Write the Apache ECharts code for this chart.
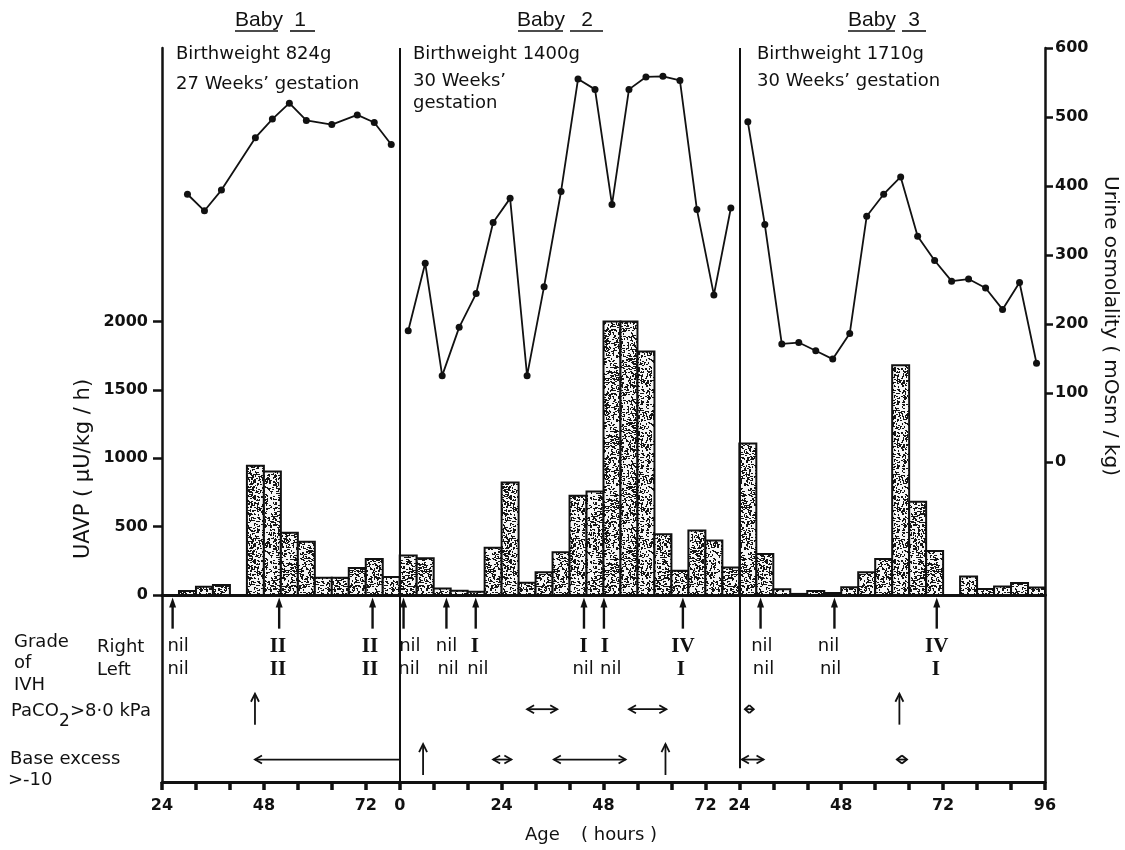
<!DOCTYPE html>
<html>
<head>
<meta charset="utf-8">
<title>UAVP and urine osmolality, three babies</title>
<script src="https://cdn.jsdelivr.net/npm/echarts@6/dist/echarts.min.js"></script>
<style>
  html, body { margin: 0; padding: 0; background: #fff; }
  #chart { width: 1125px; height: 850px; }
</style>
</head>
<body>
<div id="chart"></div>
<script>
const INK = "#111111";
const FONT = '"DejaVu Sans", sans-serif';
const TITLE_FONT = '"Liberation Sans", sans-serif';
const NUMERAL_FONT = '"Liberation Serif", serif';

// each panel runs on its own baby's clock (hours of age)
const panelFirstHour = [24, 0, 24];
const panelLastHour = [80, 80, 96];
const BIN_HOURS = 4;

// UAVP (uU/kg/h), one bar per 4-hour collection, keyed by its start hour
const baby1BinStart = [28, 32, 36, 44, 48, 52, 56, 60, 64, 68, 72, 76];
const baby1Uavp = [29, 61, 73, 945, 903, 456, 390, 127, 127, 198, 264, 132];
const baby2BinStart = [0, 4, 8, 12, 16, 20, 24, 28, 32, 36, 40, 44, 48, 52, 56, 60, 64, 68, 72, 76];
const baby2Uavp = [288, 268, 48, 31, 24, 346, 823, 90, 166, 312, 725, 757, 2000, 2000, 1780, 444, 178, 471, 398, 202];
const baby3BinStart = [24, 28, 32, 36, 40, 44, 48, 52, 56, 60, 64, 68, 76, 80, 84, 88, 92];
const baby3Uavp = [1108, 300, 42, 8, 29, 15, 56, 166, 264, 1680, 681, 321, 135, 44, 62, 88, 54];

// urine osmolality (mOsm/kg)
const baby1OsmHour = [30, 34, 38, 46, 50, 54, 58, 64, 70, 74, 78];
const baby1Osm = [388, 364, 394, 470, 497, 520, 495, 489, 503, 492, 460];
const baby2OsmHour = [2, 6, 10, 14, 18, 22, 26, 30, 34, 38, 42, 46, 50, 54, 58, 62, 66, 70, 74, 78];
const baby2Osm = [190, 288, 125, 195, 244, 347, 382, 125, 254, 392, 555, 540, 373, 540, 558, 559, 553, 366, 242, 368];
const baby3OsmHour = [26, 30, 34, 38, 42, 46, 50, 54, 58, 62, 66, 70, 74, 78, 82, 86, 90, 94];
const baby3Osm = [493, 344, 171, 173, 161, 149, 186, 356, 388, 413, 327, 292, 262, 265, 252, 221, 260, 143];

// ultrasound scans and the IVH grade found on each side
const baby1ScanHour = [26.5, 51.6, 73.6];
const baby2ScanHour = [0.9, 11, 17.9, 43.4, 48.1, 66.7];
const baby3ScanHour = [29, 46.4, 70.5];
const baby1GradeRight = [[27.8, "nil"], [51.3, "II"], [73, "II"]];
const baby1GradeLeft = [[27.8, "nil"], [51.3, "II"], [73, "II"]];
const baby2GradeRight = [[2.4, "nil"], [11, "nil"], [17.7, "I"], [43.3, "I"], [48.3, "I"], [66.7, "IV"]];
const baby2GradeLeft = [[2.2, "nil"], [11.4, "nil"], [18.4, "nil"], [43.2, "nil"], [49.7, "nil"], [66.2, "I"]];
const baby3GradeRight = [[29.3, "nil"], [45, "nil"], [70.5, "IV"]];
const baby3GradeLeft = [[29.7, "nil"], [45.5, "nil"], [70.3, "I"]];

// blood gas periods: [kind, from hour, to hour]
const baby1Paco2 = [["up", 45.9]];
const baby2Paco2 = [["both", 30, 37.1], ["both", 54, 62.8]];
const baby3Paco2 = [["both", 25.3, 27.4], ["up", 61.7]];
const baby1BaseExcess = [["left", 45.9, 80]];
const baby2BaseExcess = [["up", 5.5], ["both", 22, 26.3], ["both", 36.3, 53.2], ["up", 62.6]];
const baby3BaseExcess = [["both", 24.6, 29.7], ["both", 61.1, 63.5]];

const uavpTicks = [0, 500, 1000, 1500, 2000];
const osmTicks = [0, 100, 200, 300, 400, 500, 600];

// rows of the annotation strip (strip axis runs 0..7.5 downwards)
const ROW = { scanTip: 0.1, scanBase: 1.35, right: 2.05, left: 3.0, paco2: 4.58, base: 6.6 };
const ARROW_HALF = 0.62;

// lay the three clocks end to end on one axis
const panelOffset = [];
let cursor = 0;
panelFirstHour.forEach((first, i) => {
  panelOffset.push(cursor - first);
  cursor += panelLastHour[i] - first;
});
const AXIS_MAX = cursor;
const panelEdge = panelFirstHour.map((first, i) => first + panelOffset[i]);

function localHour(g) {
  let i = 0;
  while (i + 1 < panelEdge.length && g >= panelEdge[i + 1]) i++;
  return g - panelOffset[i];
}

const binStarts = [baby1BinStart, baby2BinStart, baby3BinStart];
const uavp = [baby1Uavp, baby2Uavp, baby3Uavp];
const osmHours = [baby1OsmHour, baby2OsmHour, baby3OsmHour];
const osm = [baby1Osm, baby2Osm, baby3Osm];
const scans = [baby1ScanHour, baby2ScanHour, baby3ScanHour];
const gradesRight = [baby1GradeRight, baby2GradeRight, baby3GradeRight];
const gradesLeft = [baby1GradeLeft, baby2GradeLeft, baby3GradeLeft];
const paco2 = [baby1Paco2, baby2Paco2, baby3Paco2];
const baseExcess = [baby1BaseExcess, baby2BaseExcess, baby3BaseExcess];

const barData = [];
binStarts.forEach((starts, b) => {
  starts.forEach((h, k) => {
    barData.push([h + panelOffset[b], h + BIN_HOURS + panelOffset[b], uavp[b][k]]);
  });
});

const scanData = [];
scans.forEach((hours, b) => hours.forEach((h) => scanData.push([h + panelOffset[b], ROW.scanBase])));

const gradeItems = [];
gradesRight.forEach((list, b) => list.forEach(([h, text]) => gradeItems.push({ x: h + panelOffset[b], row: ROW.right, text })));
gradesLeft.forEach((list, b) => list.forEach(([h, text]) => gradeItems.push({ x: h + panelOffset[b], row: ROW.left, text })));

const eventItems = [];
function addEvents(lists, row) {
  lists.forEach((list, b) => {
    list.forEach(([kind, from, to]) => {
      eventItems.push({
        kind,
        from: from + panelOffset[b],
        to: (to === undefined ? from : to) + panelOffset[b],
        row
      });
    });
  });
}
addEvents(paco2, ROW.paco2);
addEvents(baseExcess, ROW.base);

// speckled fill like the printed stipple
function stippleTexture() {
  const size = 64;
  const canvas = document.createElement("canvas");
  canvas.width = size;
  canvas.height = size;
  const ctx = canvas.getContext("2d");
  ctx.fillStyle = "#f6f6f6";
  ctx.fillRect(0, 0, size, size);
  ctx.fillStyle = "#161616";
  for (let y = 0; y < size; y++) {
    for (let x = 0; x < size; x++) {
      const h = Math.imul(x * 73 + 11, 374761393) ^ Math.imul(y * 37 + 5, 668265263);
      const m = Math.imul(h ^ (h >>> 13), 1274126177) >>> 0;
      const r = (m >>> 8) % 1000;
      if (r < 150) ctx.fillRect(x, y, 2, 1);
      else if (r < 230) ctx.fillRect(x, y, 1, 2);
    }
  }
  return canvas;
}
const stipple = { image: stippleTexture(), repeat: "repeat" };

function renderBar(params, api) {
  const top = api.coord([api.value(0), api.value(2)]);
  const bottom = api.coord([api.value(1), 0]);
  return {
    type: "rect",
    shape: { x: top[0], y: top[1], width: bottom[0] - top[0], height: bottom[1] - top[1] },
    style: { fill: stipple, stroke: INK, lineWidth: 2 }
  };
}

function renderScan(params, api) {
  const tip = api.coord([api.value(0), ROW.scanTip]);
  const base = api.coord([api.value(0), ROW.scanBase]);
  const x = tip[0];
  return {
    type: "group",
    children: [
      { type: "line", shape: { x1: x, y1: base[1], x2: x, y2: tip[1] + 8 }, style: { stroke: INK, lineWidth: 2.4 } },
      { type: "polygon", shape: { points: [[x, tip[1]], [x - 3.5, tip[1] + 10], [x + 3.5, tip[1] + 10]] }, style: { fill: INK } }
    ]
  };
}

function renderGrade(params, api) {
  const item = gradeItems[params.dataIndex];
  const p = api.coord([item.x, item.row]);
  const roman = item.text !== "nil";
  return {
    type: "text",
    x: p[0],
    y: p[1],
    style: {
      text: item.text,
      fill: INK,
      font: roman ? `bold 21px ${NUMERAL_FONT}` : `18px ${FONT}`,
      align: "center",
      verticalAlign: "middle"
    }
  };
}

function renderEvent(params, api) {
  const ev = eventItems[params.dataIndex];
  const style = { stroke: INK, lineWidth: 1.8, fill: null };
  if (ev.kind === "up") {
    const top = api.coord([ev.from, ev.row - ARROW_HALF]);
    const bottom = api.coord([ev.from, ev.row + ARROW_HALF]);
    const x = top[0];
    return {
      type: "group",
      children: [
        { type: "line", shape: { x1: x, y1: bottom[1], x2: x, y2: top[1] }, style },
        { type: "polyline", shape: { points: [[x - 4, top[1] + 8], [x, top[1]], [x + 4, top[1] + 8]] }, style }
      ]
    };
  }
  const a = api.coord([ev.from, ev.row]);
  const b = api.coord([ev.to, ev.row]);
  const head = Math.min(7, (b[0] - a[0]) / 2);
  const children = [
    { type: "line", shape: { x1: a[0], y1: a[1], x2: b[0], y2: b[1] }, style },
    { type: "polyline", shape: { points: [[a[0] + head, a[1] - 4], [a[0], a[1]], [a[0] + head, a[1] + 4]] }, style }
  ];
  if (ev.kind === "both") {
    children.push({ type: "polyline", shape: { points: [[b[0] - head, b[1] - 4], [b[0], b[1]], [b[0] - head, b[1] + 4]] }, style });
  }
  return { type: "group", children };
}

function text(x, y, content, font, extra) {
  return Object.assign({
    type: "text",
    x,
    y,
    silent: true,
    style: { text: content, font, fill: INK, align: "left", verticalAlign: "middle" }
  }, extra || {});
}

function rule(x1, x2, y) {
  return { type: "line", silent: true, shape: { x1, y1: y, x2, y2: y }, style: { stroke: INK, lineWidth: 1.6 } };
}

const labelFont = `18px ${FONT}`;
const titleFont = `21px ${TITLE_FONT}`;
const centred = (el) => { el.style.align = "center"; return el; };

const graphics = [
  centred(text(259, 20, "Baby", titleFont)), centred(text(300, 20, "1", titleFont)),
  rule(235, 278, 31), rule(290, 315, 31),
  centred(text(541, 20, "Baby", titleFont)), centred(text(587, 20, "2", titleFont)),
  rule(518, 563, 31), rule(570, 603, 31),
  centred(text(872, 20, "Baby", titleFont)), centred(text(914, 20, "3", titleFont)),
  rule(848, 895, 31), rule(902, 926, 31),

  text(176, 54, "Birthweight 824g", labelFont),
  text(176, 84, "27 Weeks\u2019 gestation", labelFont),
  text(413, 54, "Birthweight 1400g", labelFont),
  text(413, 81, "30 Weeks\u2019", labelFont),
  text(413, 103, "gestation", labelFont),
  text(757, 54, "Birthweight 1710g", labelFont),
  text(757, 81, "30 Weeks\u2019 gestation", labelFont),

  text(14, 642, "Grade", labelFont),
  text(14, 663, "of", labelFont),
  text(14, 685, "IVH", labelFont),
  text(97, 647, "Right", labelFont),
  text(97, 670, "Left", labelFont),
  text(11, 711, "PaCO", labelFont),
  text(59, 722, "2", `17px ${FONT}`),
  text(70, 711, ">8\u00b70 kPa", labelFont),
  text(10, 759, "Base excess", labelFont),
  text(8, 780, ">-10", labelFont),

  centred(text(84, 469, "UAVP ( \u03bcU/kg / h)", `21px ${FONT}`, { rotation: Math.PI / 2 })),
  centred(text(1110, 326, "Urine osmolality ( mOsm / kg)", `20px ${FONT}`, { rotation: -Math.PI / 2 })),
  text(525, 835, "Age", labelFont),
  text(581, 835, "( hours )", labelFont)
];

const tickLabel = { color: INK, fontFamily: FONT, fontSize: 16, fontWeight: "bold" };
const blackLine = (width) => ({ color: INK, width });
const plain = (v) => String(v);

const chart = echarts.init(document.getElementById("chart"), null, { renderer: "canvas" });
chart.setOption({
  animation: false,
  backgroundColor: "#ffffff",
  grid: [
    { left: 162, right: 80, top: 48, height: 547 },
    { left: 162, right: 80, top: 595, height: 187 }
  ],
  xAxis: [
    {
      gridIndex: 0, type: "value", min: 0, max: AXIS_MAX,
      axisLine: { onZero: false, lineStyle: blackLine(3) },
      axisTick: { show: false }, axisLabel: { show: false }, splitLine: { show: false }
    },
    {
      gridIndex: 1, type: "value", min: 0, max: AXIS_MAX, interval: 8,
      axisLine: { onZero: false, lineStyle: blackLine(3) },
      axisTick: { length: 8, lineStyle: blackLine(3.5) },
      axisLabel: Object.assign({
        margin: 16,
        formatter: (v) => {
          const h = localHour(v);
          return h % 24 === 0 ? String(h) : "";
        }
      }, tickLabel),
      splitLine: { show: false }
    }
  ],
  yAxis: [
    {
      gridIndex: 0, type: "value", position: "left", min: 0, max: 4000,
      axisLine: { show: true, onZero: false, lineStyle: blackLine(2.5) },
      axisTick: { show: true, customValues: uavpTicks, length: 9, lineStyle: blackLine(2.5) },
      axisLabel: Object.assign({ customValues: uavpTicks, margin: 14, formatter: plain }, tickLabel),
      splitLine: { show: false }
    },
    {
      gridIndex: 0, type: "value", position: "right", min: -193, max: 600,
      axisLine: { show: true, onZero: false, lineStyle: blackLine(2.5) },
      axisTick: { show: true, customValues: osmTicks, length: 8, lineStyle: blackLine(2.5) },
      axisLabel: Object.assign({ customValues: osmTicks, margin: 10, formatter: plain }, tickLabel),
      splitLine: { show: false }
    },
    {
      gridIndex: 1, type: "value", position: "left", inverse: true, min: 0, max: 7.5,
      axisLine: { show: true, onZero: false, lineStyle: blackLine(2.5) },
      axisTick: { show: false }, axisLabel: { show: false }, splitLine: { show: false }
    },
    {
      gridIndex: 1, type: "value", position: "right", inverse: true, min: 0, max: 7.5,
      axisLine: { show: true, onZero: false, lineStyle: blackLine(2.5) },
      axisTick: { show: false }, axisLabel: { show: false }, splitLine: { show: false }
    }
  ],
  series: [
    {
      name: "UAVP",
      type: "custom",
      xAxisIndex: 0,
      yAxisIndex: 0,
      renderItem: renderBar,
      encode: { x: [0, 1], y: 2 },
      data: barData,
      silent: true,
      z: 2,
      markLine: {
        silent: true,
        symbol: "none",
        label: { show: false },
        lineStyle: { color: INK, width: 2, type: "solid" },
        data: [{ xAxis: panelEdge[1] }, { xAxis: panelEdge[2] }]
      }
    },
    ...osm.map((values, b) => ({
      name: `Urine osmolality ${b + 1}`,
      type: "line",
      xAxisIndex: 0,
      yAxisIndex: 1,
      data: values.map((v, k) => [osmHours[b][k] + panelOffset[b], v]),
      symbol: "circle",
      symbolSize: 7,
      itemStyle: { color: INK },
      lineStyle: { color: INK, width: 1.8 },
      silent: true,
      z: 4
    })),
    {
      name: "Scans",
      type: "custom",
      xAxisIndex: 1,
      yAxisIndex: 2,
      renderItem: renderScan,
      encode: { x: 0, y: 1 },
      data: scanData,
      silent: true,
      markLine: {
        silent: true,
        symbol: "none",
        label: { show: false },
        lineStyle: { color: INK, width: 2, type: "solid" },
        data: [
          { xAxis: panelEdge[1] },
          [{ coord: [panelEdge[2], 0] }, { coord: [panelEdge[2], 6.95] }]
        ]
      }
    },
    {
      name: "IVH grade",
      type: "custom",
      xAxisIndex: 1,
      yAxisIndex: 2,
      renderItem: renderGrade,
      encode: { x: 0, y: 1 },
      data: gradeItems.map((it) => [it.x, it.row]),
      silent: true
    },
    {
      name: "Blood gas",
      type: "custom",
      xAxisIndex: 1,
      yAxisIndex: 2,
      renderItem: renderEvent,
      encode: { x: 0, y: 1 },
      data: eventItems.map((ev) => [ev.from, ev.row]),
      silent: true
    }
  ],
  graphic: graphics
});
window.addEventListener("resize", () => chart.resize());
</script>
</body>
</html>
